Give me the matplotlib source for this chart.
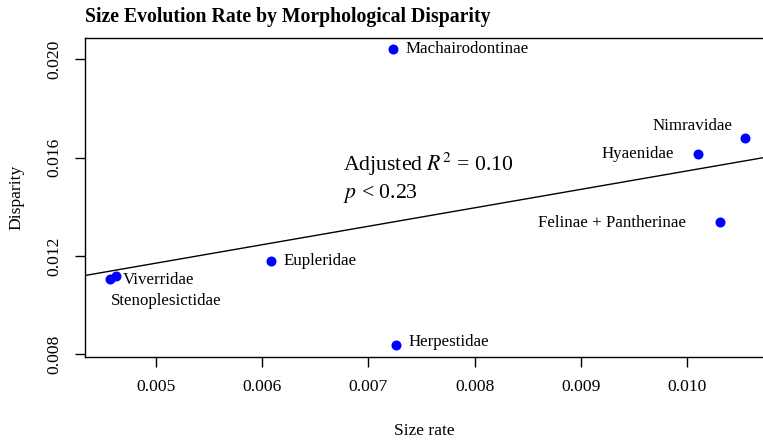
import matplotlib
matplotlib.use("Agg")
import matplotlib.pyplot as plt
import numpy as np

# data
groups = ["Machairodontinae", "Nimravidae", "Hyaenidae", "Felinae + Pantherinae",
          "Eupleridae", "Viverridae", "Stenoplesictidae", "Herpestidae"]
size_rate = [0.007236, 0.010547, 0.010104, 0.010311, 0.006085, 0.004623, 0.004566, 0.007264]
disparity = [0.02041, 0.016813, 0.016163, 0.013398, 0.011797, 0.011187, 0.011065, 0.008366]
x_ticks = [0.005, 0.006, 0.007, 0.008, 0.009, 0.010]
y_ticks = [0.008, 0.012, 0.016, 0.020]
stat_text = "Adjusted $R^2$ = 0.10\n$p$ < 0.23"

plt.rcParams['font.family'] = ['Liberation Serif', 'DejaVu Serif']
plt.rcParams['mathtext.fontset'] = 'stix'

fig = plt.figure(figsize=(7.63, 4.43), dpi=100)
ax = fig.add_axes([85 / 763, 1 - 357 / 443, 1 - 85 / 763, (357 - 37.5) / 443])

ax.scatter(size_rate, disparity, s=52, color='#0000ff', zorder=3, linewidths=0)

# regression line
slope, intercept = np.polyfit(size_rate, disparity, 1)
xl = np.array([0.0040, 0.0112])
ax.plot(xl, slope * xl + intercept, color='black', lw=1)

# point labels: (dx, dy) in points, ha
offsets = {
    "Machairodontinae": (8.6, 0, 'left'),
    "Nimravidae": (-8.6, 8.6, 'right'),
    "Hyaenidae": (-17, 0, 'right'),
    "Felinae + Pantherinae": (-24.5, -1.4, 'right'),
    "Eupleridae": (8.6, 0, 'left'),
    "Viverridae": (5, -3, 'left'),
    "Stenoplesictidae": (0.7, -16, 'left'),
    "Herpestidae": (8.6, 2, 'left'),
}
for name, x, y in zip(groups, size_rate, disparity):
    dx, dy, ha = offsets[name]
    ax.annotate(name, (x, y), xytext=(dx, dy), textcoords='offset points',
                ha=ha, va='center', fontsize=12.2)

ax.text(0.006764, 0.01517, stat_text, fontsize=15.7, ha='left', va='center',
        linespacing=1.25)

ax.set_xlim(0.00433, 0.010717)
ax.set_ylim(0.00788, 0.020894)
ax.set_xticks(x_ticks)
ax.set_xticklabels([f"{v:.3f}" for v in x_ticks])
ax.set_yticks(y_ticks)
ax.set_yticklabels([f"{v:.3f}" for v in y_ticks], rotation=90, va='center')
ax.tick_params(length=7, width=1, labelsize=12.6, pad=9)
ax.spines['right'].set_visible(False)
for s in ['left', 'bottom', 'top']:
    ax.spines[s].set_linewidth(1)

ax.set_xlabel("Size rate", fontsize=12.6, labelpad=20)
ax.set_ylabel("Disparity", fontsize=12.6, labelpad=16)
fig.text(85 / 763, 1 - 17 / 443, "Size Evolution Rate by Morphological Disparity",
         fontsize=14.2, fontweight='bold', ha='left', va='center')

fig.savefig("out.png", dpi=100)
